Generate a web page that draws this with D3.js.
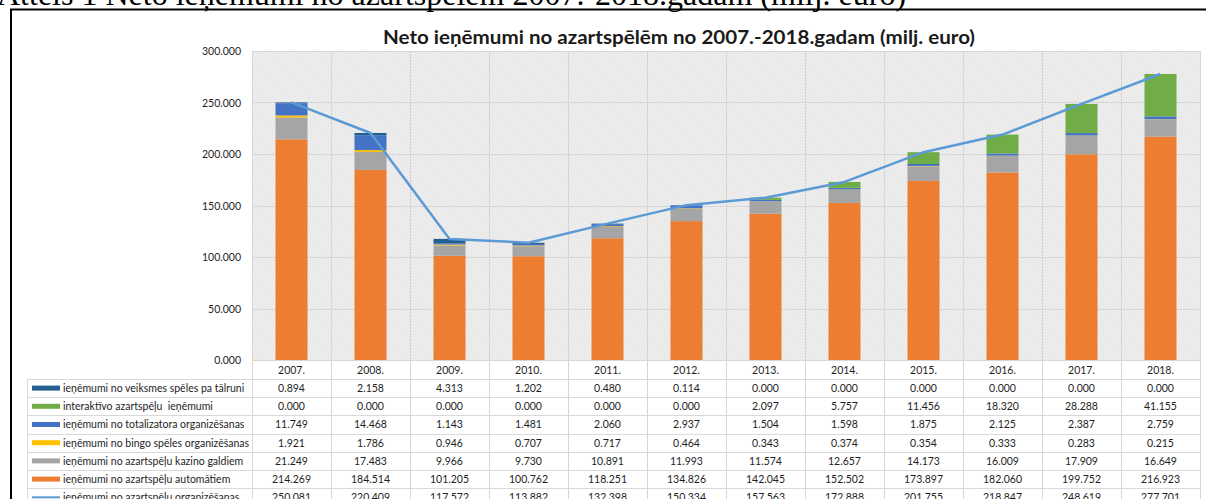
<!DOCTYPE html>
<html lang="lv">
<head>
<meta charset="utf-8">
<script src="https://d3js.org/d3.v7.min.js"></script>
<style>
  body { margin: 0; background: #fff; }
  svg text { font-family: Lato, "Open Sans", sans-serif; fill: #1e1e1e; }
  .caption { font-family: "Liberation Serif", "DejaVu Serif", serif; fill: #000; }
  .grid { stroke: #d6d6d6; stroke-width: 1; }
  .tbl { stroke: #d9d9d9; stroke-width: 1; }
</style>
</head>
<body>
<svg id="chart" width="1206" height="499"></svg>
<script>
// DATA
const years = ["2007.", "2008.", "2009.", "2010.", "2011.", "2012.", "2013.", "2014.", "2015.", "2016.", "2017.", "2018."];
const veiksmes     = [0.894, 2.158, 4.313, 1.202, 0.480, 0.114, 0.000, 0.000, 0.000, 0.000, 0.000, 0.000];
const interaktivo  = [0.000, 0.000, 0.000, 0.000, 0.000, 0.000, 2.097, 5.757, 11.456, 18.320, 28.288, 41.155];
const totalizators = [11.749, 14.468, 1.143, 1.481, 2.060, 2.937, 1.504, 1.598, 1.875, 2.125, 2.387, 2.759];
const bingo        = [1.921, 1.786, 0.946, 0.707, 0.717, 0.464, 0.343, 0.374, 0.354, 0.333, 0.283, 0.215];
const kazino       = [21.249, 17.483, 9.966, 9.730, 10.891, 11.993, 11.574, 12.657, 14.173, 16.009, 17.909, 16.649];
const automati     = [214.269, 184.514, 101.205, 100.762, 118.251, 134.826, 142.045, 152.502, 173.897, 182.060, 199.752, 216.923];
const kopa         = [250.081, 220.409, 117.572, 113.882, 132.398, 150.334, 157.563, 172.888, 201.755, 218.847, 248.619, 277.701];
const yTicks = [0, 50, 100, 150, 200, 250, 300];

// series, bottom -> top in the stack
const stackSeries = [
  {key: "automati", name: "ieņēmumi no azartspēļu automātiem", values: automati, color: "#ed7d31"},
  {key: "kazino", name: "ieņēmumi no azartspēļu kazino galdiem", values: kazino, color: "#a5a5a5"},
  {key: "bingo", name: "ieņēmumi no bingo spēles organizēšanas", values: bingo, color: "#ffc000"},
  {key: "totalizators", name: "ieņēmumi no totalizatora organizēšanas", values: totalizators, color: "#4472c4"},
  {key: "interaktivo", name: "interaktīvo azartspēļu  ieņēmumi", values: interaktivo, color: "#70ad47"},
  {key: "veiksmes", name: "ieņēmumi no veiksmes spēles pa tālruni", values: veiksmes, color: "#255e91"}
];
const lineSeries = {name: "ieņēmumi no azartspēļu organizēšanas", values: kopa, color: "#5b9bd5"};

// table rows, top -> bottom
const tableRows = stackSeries.slice().reverse().concat([lineSeries]);

// LAYOUT
const svg = d3.select("#chart");
const plot = {left: 252, right: 1200, top: 51, bottom: 360};
const tableLeft = 27, headerH = 19, rowH = 18.2;
const fmt = d3.format(".3f");

const x = d3.scaleBand().domain(years).range([plot.left, plot.right]);
const y = d3.scaleLinear().domain([0, 300]).range([plot.bottom, plot.top]);
const barW = 32;

// caption above the framed chart (cut off at top of the screenshot)
svg.append("text").attr("class", "caption")
  .attr("x", -3).attr("y", 5)
  .attr("font-size", 32)
  .text("Attēls 1 Neto ieņēmumi no azartspēlēm 2007.-2018.gadam (milj. euro)");

// frame
svg.append("line").attr("x1", 10).attr("x2", 1206).attr("y1", 9.5).attr("y2", 9.5)
  .attr("stroke", "#000").attr("stroke-width", 2);
svg.append("line").attr("x1", 11).attr("x2", 11).attr("y1", 9).attr("y2", 499)
  .attr("stroke", "#000").attr("stroke-width", 2);

// title
svg.append("text")
  .attr("x", 679).attr("y", 44)
  .attr("text-anchor", "middle")
  .attr("font-size", 19.5).attr("font-weight", "bold")
  .style("fill", "#1a1a1a")
  .attr("textLength", 592).attr("lengthAdjust", "spacingAndGlyphs")
  .text("Neto ieņēmumi no azartspēlēm no 2007.-2018.gadam (milj. euro)");

// hatched plot background
const defs = svg.append("defs");
const pat = defs.append("pattern").attr("id", "hatch")
  .attr("width", 3).attr("height", 3)
  .attr("patternUnits", "userSpaceOnUse");
pat.append("rect").attr("width", 3).attr("height", 3).attr("fill", "#f1f1f1");
pat.append("path").attr("d", "M0,0 L3,3 M-1,2 L1,4 M2,-1 L4,1")
  .attr("stroke", "#dadada").attr("stroke-width", 0.8);

svg.append("rect")
  .attr("x", plot.left).attr("y", plot.top)
  .attr("width", plot.right - plot.left).attr("height", plot.bottom - plot.top)
  .attr("fill", "url(#hatch)");

// gridlines
svg.append("g").selectAll("line").data(yTicks).join("line")
  .attr("class", "grid")
  .attr("x1", plot.left).attr("x2", plot.right)
  .attr("y1", d => Math.round(y(d)) + 0.5).attr("y2", d => Math.round(y(d)) + 0.5);

const tableBottom = plot.bottom + headerH + rowH * tableRows.length;
const colEdges = years.map(d => x(d)).concat([plot.right]);
svg.append("g").selectAll("line").data(colEdges).join("line")
  .attr("class", "grid")
  .attr("x1", d => Math.round(d) + 0.5).attr("x2", d => Math.round(d) + 0.5)
  .attr("y1", plot.top).attr("y2", tableBottom);

// y axis labels
svg.append("g").selectAll("text").data(yTicks).join("text")
  .attr("x", 241).attr("y", d => y(d) + 4)
  .attr("text-anchor", "end").attr("font-size", 10.5)
  .text(d => fmt(d));

// stacked bars
const stackData = years.map((yr, i) => {
  const o = {year: yr};
  stackSeries.forEach(s => o[s.key] = s.values[i]);
  return o;
});
const stacked = d3.stack().keys(stackSeries.map(s => s.key))(stackData);
svg.append("g").selectAll("g").data(stacked).join("g")
  .attr("fill", (d, i) => stackSeries[i].color)
  .selectAll("rect").data(d => d).join("rect")
  .attr("x", d => x(d.data.year) + x.bandwidth() / 2 - barW / 2)
  .attr("width", barW)
  .attr("y", d => y(d[1]))
  .attr("height", d => Math.max(0, y(d[0]) - y(d[1])));

// total line
const line = d3.line()
  .x((d, i) => x(years[i]) + x.bandwidth() / 2)
  .y(d => y(d));
svg.append("path").datum(kopa)
  .attr("d", line)
  .attr("fill", "none")
  .attr("stroke", lineSeries.color)
  .attr("stroke-width", 2.5)
  .attr("stroke-linejoin", "round");

// data table
const tbl = svg.append("g");
const rowTops = d3.range(tableRows.length + 1).map(i => plot.bottom + headerH + i * rowH);
tbl.selectAll("line.h").data(rowTops).join("line")
  .attr("class", "tbl")
  .attr("x1", tableLeft).attr("x2", plot.right)
  .attr("y1", d => Math.round(d) + 0.5).attr("y2", d => Math.round(d) + 0.5);
tbl.append("line").attr("class", "tbl")
  .attr("x1", tableLeft + 0.5).attr("x2", tableLeft + 0.5)
  .attr("y1", rowTops[0]).attr("y2", tableBottom);
tbl.append("line").attr("class", "tbl")
  .attr("x1", plot.left + 0.5).attr("x2", plot.left + 0.5)
  .attr("y1", plot.bottom).attr("y2", tableBottom);

// year header
tbl.selectAll("text.yr").data(years).join("text")
  .attr("x", d => x(d) + x.bandwidth() / 2)
  .attr("y", plot.bottom + headerH / 2 + 4)
  .attr("text-anchor", "middle").attr("font-size", 10.5)
  .text(d => d);

tableRows.forEach((s, r) => {
  const cy = rowTops[r] + rowH / 2;
  if (s === lineSeries) {
    tbl.append("line").attr("x1", 32).attr("x2", 60).attr("y1", cy).attr("y2", cy)
      .attr("stroke", s.color).attr("stroke-width", 2);
  } else {
    tbl.append("rect").attr("x", 32).attr("y", cy - 2.5).attr("width", 28).attr("height", 5)
      .attr("fill", s.color);
  }
  tbl.append("text").attr("x", 63).attr("y", cy + 3.8)
    .attr("font-size", 10.5).style("white-space", "pre")
    .text(s.name);
  tbl.append("g").selectAll("text").data(s.values).join("text")
    .attr("x", (d, i) => x(years[i]) + x.bandwidth() / 2)
    .attr("y", cy + 3.8)
    .attr("text-anchor", "middle").attr("font-size", 10.5)
    .text(d => fmt(d));
});
</script>
</body>
</html>
